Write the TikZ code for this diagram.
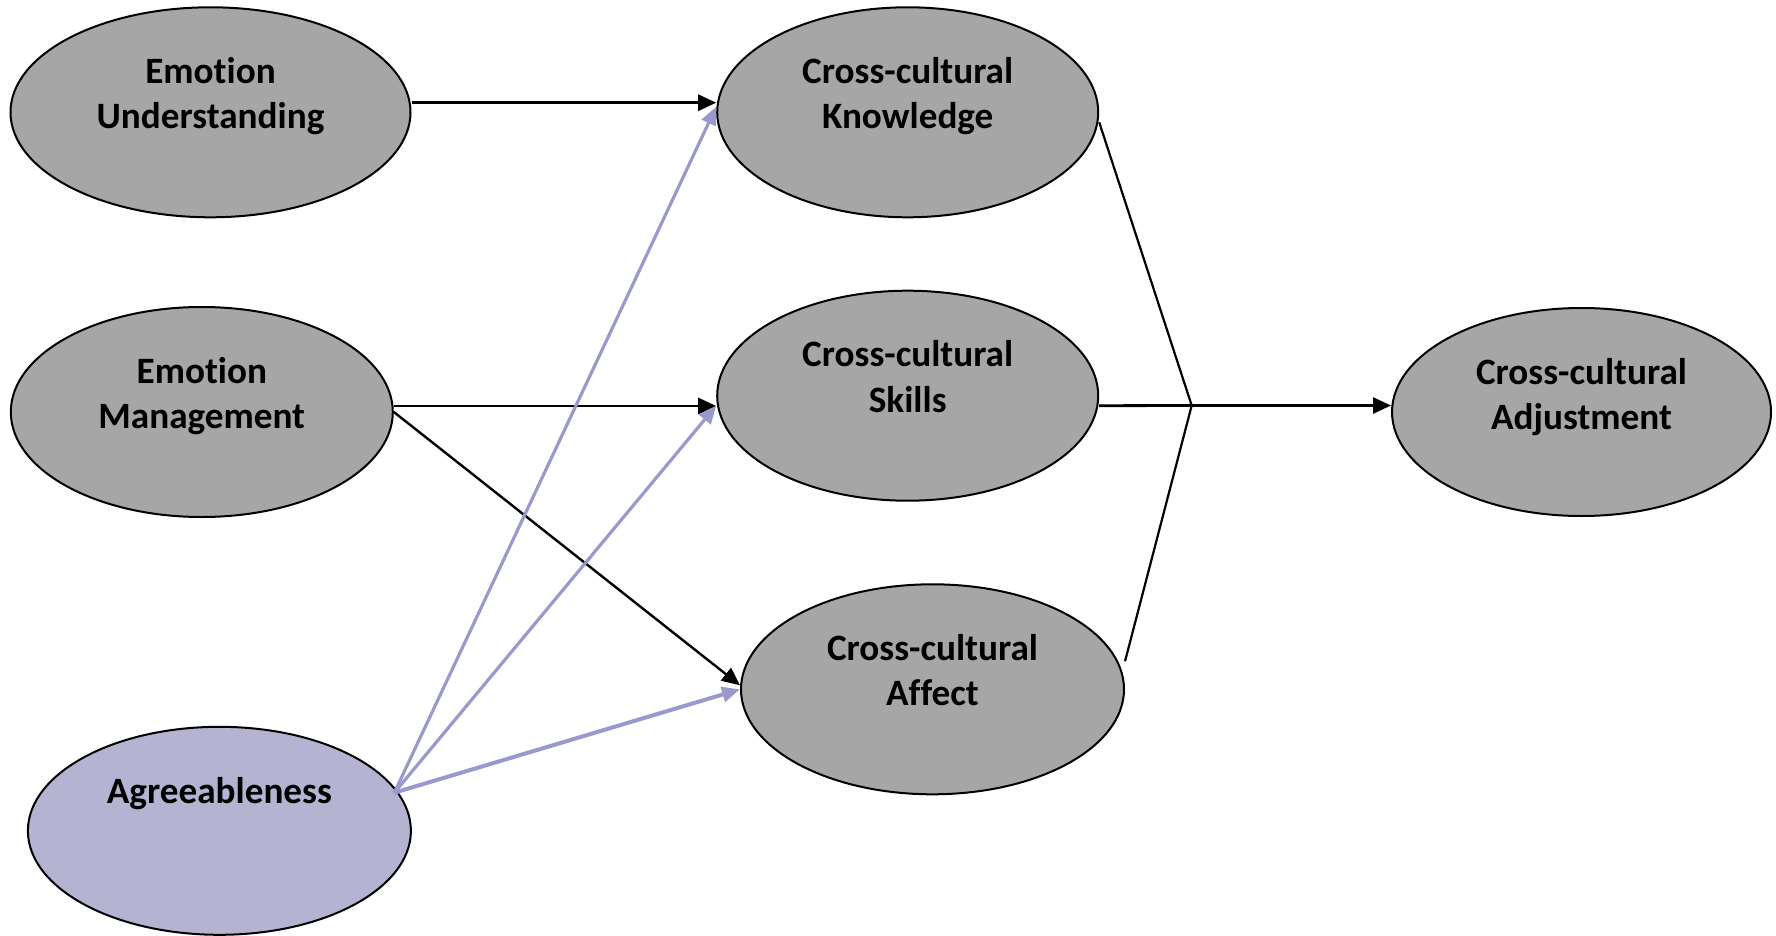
\documentclass[tikz,border=0pt]{standalone}
\usepackage{fontspec}
\setmainfont{Carlito}[Ligatures=NoCommon]
\usetikzlibrary{shapes.geometric,arrows.meta}
\definecolor{nodegray}{RGB}{166,166,166}
\definecolor{lavfill}{RGB}{180,180,210}
\definecolor{lavline}{RGB}{153,153,204}
\begin{document}
\begin{tikzpicture}[x=0.5pt,y=-0.5pt,
  ell/.style={ellipse, draw=black, line width=1pt, fill=nodegray, inner sep=0pt,
    minimum width=190.5pt, minimum height=105pt},
  txt/.style={anchor=base, inner sep=0pt, font=\fontsize{18.6}{22.6}\selectfont\bfseries},
  blkarr/.style={draw=black, line width=1.4pt, -{Triangle[length=9pt,width=8pt]}},
  blkline/.style={draw=black, line width=1.1pt},
  lavarr/.style={draw=lavline, line width=1.6pt, -{Triangle[length=9pt,width=7.5pt]}}
]
\useasboundingbox (0,0) rectangle (1776,936);

% ellipses
\node[ell, minimum width=200pt] (eu) at (210.5,112.3) {};
\node[ell] (ck) at (907.7,112.3) {};
\node[ell, minimum width=191pt] (em) at (201.8,412) {};
\node[ell] (cs) at (907.7,395.7) {};
\node[ell, minimum width=189.5pt, minimum height=104pt] (adj) at (1581.5,412) {};
\node[ell, minimum width=191.5pt] (caff) at (932.5,689.3) {};
\node[ell, fill=lavfill, minimum width=191.5pt, minimum height=104pt] (ag) at (219.4,830.8) {};

% texts
\node[txt] (eut) at ([yshift=-38.6pt]eu.north) {\begin{tabular}[t]{@{}c@{}}Emotion\\Understanding\end{tabular}};
\node[txt] (ckt) at ([yshift=-38.6pt]ck.north) {\begin{tabular}[t]{@{}c@{}}Cross-cultural\\Knowledge\end{tabular}};
\node[txt] (emt) at ([yshift=-38.6pt]em.north) {\begin{tabular}[t]{@{}c@{}}Emotion\\Management\end{tabular}};
\node[txt] (cst) at ([yshift=-38.6pt]cs.north) {\begin{tabular}[t]{@{}c@{}}Cross-cultural\\Skills\end{tabular}};
\node[txt] (adjt) at ([yshift=-38.6pt]adj.north) {\begin{tabular}[t]{@{}c@{}}Cross-cultural\\Adjustment\end{tabular}};
\node[txt] (cafft) at ([yshift=-38.6pt]caff.north) {\begin{tabular}[t]{@{}c@{}}Cross-cultural\\Affect\end{tabular}};
\node[txt] (agt) at ([yshift=-38.6pt]ag.north) {Agreeableness};

% black connectors
\draw[blkarr] ([yshift=4.8pt]eu.east) -- ([yshift=4.8pt]eu.east -| ck.west);
\draw[blkarr] ([yshift=3pt]em.east) -- ([yshift=3pt]em.east -| cs.west);
\draw[blkarr, line width=1.2pt] (em.east) -- ([yshift=2pt]caff.west);

% lavender connectors
\coordinate (agp) at ([xshift=-2.2pt]ag.12);
\draw[lavarr] (agp) -- ([yshift=2.8pt]ck.west);
\draw[lavarr] (agp) -- ([yshift=-5pt]cs.west);
\draw[lavarr, line width=2pt] (agp) -- (caff.west);

% junction to adjustment
\coordinate (j) at (1191.7,405.5);
\draw[blkline] ([yshift=-5pt]ck.east) -- (j);
\draw[blkline] ([yshift=14pt]caff.east) -- (j);
\draw[blkline, line width=1.4pt] ([yshift=-5pt]cs.east) -- (j);
\draw[blkarr] (j) -- (j -| adj.west);
\end{tikzpicture}
\end{document}
